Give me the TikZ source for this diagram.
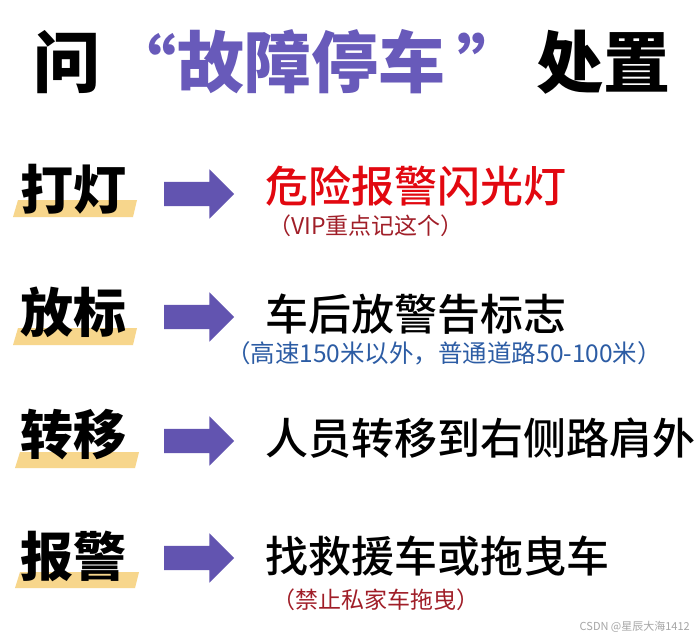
\documentclass[tikz,border=0pt]{standalone}
\usepackage{fontspec}
\usetikzlibrary{shapes.arrows,positioning}
\usepackage{xcolor}
\setmainfont{Noto Sans CJK SC}
\newfontfamily\cjk{Noto Sans CJK SC}
\newfontfamily\cjkheavy{Noto Sans CJK SC Black}
\newfontfamily\cjkmid{Noto Sans CJK SC Medium}

\definecolor{titlepurple}{RGB}{104,90,186}
\definecolor{arrowpurple}{RGB}{98,84,176}
\definecolor{warnred}{RGB}{226,8,16}
\definecolor{notered}{RGB}{160,30,40}
\definecolor{noteblue}{RGB}{44,92,164}
\definecolor{bandyellow}{RGB}{247,214,140}

\tikzset{
  title/.style={inner sep=0pt, anchor=west, font=\cjkheavy\fontsize{67pt}{70pt}\selectfont},
  tag/.style={inner sep=0pt, anchor=west, font=\cjkheavy\fontsize{53pt}{55pt}\selectfont},
  todo/.style={inner sep=0pt, anchor=west, font=\cjkmid\fontsize{43pt}{45pt}\selectfont},
  note/.style={inner sep=0pt, anchor=west, font=\cjk\fontsize{23pt}{25pt}\selectfont},
  blockarrow/.style={single arrow, fill=arrowpurple, draw=none, inner xsep=0pt, inner ysep=12pt,
    minimum height=70pt, single arrow head extend=12.5pt,
    single arrow tip angle=90},
  band/.style={fill=bandyellow}
}

\begin{document}
\begin{tikzpicture}[x=1pt,y=-1pt]
\fill[white] (0,0) rectangle (694,640);
\useasboundingbox (0,0) rectangle (694,640);

% title
\node[title] (t1) at (33,62) {问};
\node[title, text=titlepurple] (t2) at (177,62) {故障停车};
\node[title, text=titlepurple, anchor=east] (q1) at (t2.west) {“};
\node[title, text=titlepurple] (q2) at ([xshift=12pt]t2.east) {”};
\node[title] (t3) at (536,62) {处置};

% yellow bands under the tags
\fill[band] (18,200) -- (137,200) -- (133,217) -- (13,217) -- cycle;
\fill[band] (18,328) -- (137,328) -- (133,345) -- (13,345) -- cycle;
\fill[band] (20,452) -- (139,452) -- (135,468) -- (15,468) -- cycle;
\fill[band] (20,572) -- (139,572) -- (135,588) -- (15,588) -- cycle;

% tags
\node[tag] (light) at (20,189) {打灯};
\node[tag] (sign) at (20,312) {放标};
\node[tag] (move) at (20,435) {转移};
\node[tag] (call) at (20,556) {报警};

% arrows
\node[blockarrow] (a1) at (193,194) {};
\node[blockarrow] (a2) at (193,317) {};
\node[blockarrow] (a3) at (193,441) {};
\node[blockarrow] (a4) at (193,558) {};

% actions
\node[todo, text=warnred] (do1) at (265,186) {危险报警闪光灯};
\node[note, text=notered] (n1) at (268,226) {（VIP重点记这个）};
\node[todo] (do2) at (265,314) {车后放警告标志};
\node[note, text=noteblue, font=\cjk\fontsize{24.5pt}{26pt}\selectfont] (n2) at (226,353) {（高速150米以外，普通道路50-100米）};
\node[todo] (do3) at (265,438) {人员转移到右侧路肩外};
\node[todo] (do4) at (265,556) {找救援车或拖曳车};
\node[note, text=notered] (n4) at (272,600) {（禁止私家车拖曳）};

% watermark
\node[inner sep=0pt, anchor=east, text=black!35, font=\cjk\fontsize{11pt}{12pt}\selectfont] (wm) at (690,627) {CSDN @星辰大海1412};
\end{tikzpicture}
\end{document}
